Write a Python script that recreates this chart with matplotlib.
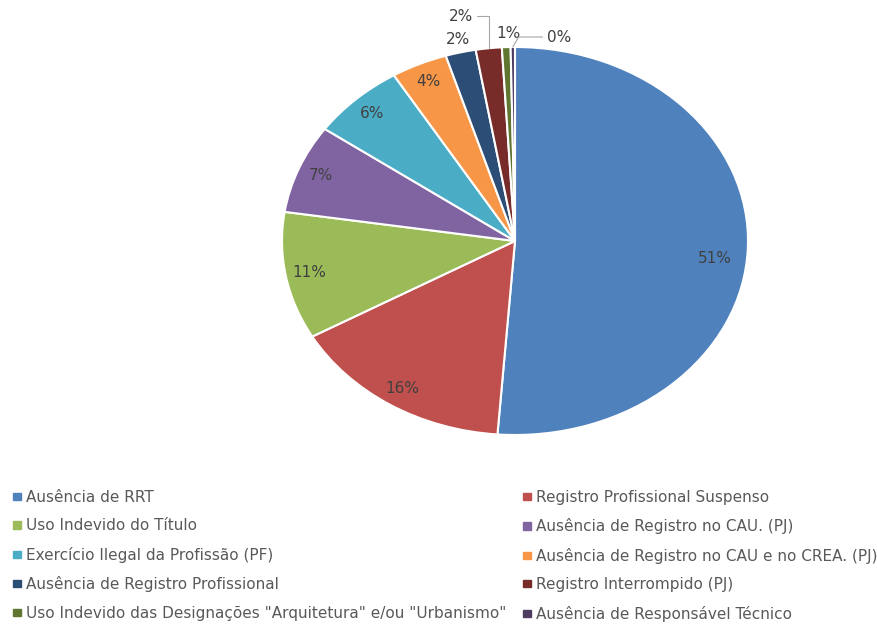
#!/usr/bin/env python3

import numpy as np
import matplotlib
matplotlib.use("Agg")
import matplotlib.pyplot as plt
from matplotlib.patches import Patch


# -------------------------------------------------------
# Data
# -------------------------------------------------------

categories = [
    "Ausência de RRT",
    "Registro Profissional Suspenso",
    "Uso Indevido do Título",
    "Ausência de Registro no CAU. (PJ)",
    "Exercício Ilegal da Profissão (PF)",
    "Ausência de Registro no CAU e no CREA. (PJ)",
    "Ausência de Registro Profissional",
    "Registro Interrompido (PJ)",
    "Uso Indevido das Designações \"Arquitetura\" e/ou \"Urbanismo\"",
    "Ausência de Responsável Técnico",
]

shares = [51.2, 15.6, 10.6, 7.4, 6.5, 3.9, 2.1, 1.8, 0.6, 0.3]

colors = [
    "#4F81BD", "#C0504D", "#9BBB59", "#8064A2", "#4BACC6",
    "#F79646", "#2C4D75", "#772C2A", "#5F7530", "#4D3B62",
]

# small slices get their label outside: (dx, dy) offset in pixels, leader style
outside = {
    6: ((-3, 13), None),
    7: ((-28, 32), "angle,angleA=0,angleB=90,rad=0"),
    8: ((2, 14), None),
    9: ((46, 10), "angle,angleA=0,angleB=60,rad=0"),
}

TEXT = "#404040"
LEGEND_TEXT = "#595959"


# -------------------------------------------------------
# Figure
# -------------------------------------------------------

W, H = 878, 624
fig = plt.figure(figsize=(W / 100, H / 100), dpi=100)

# pie is stretched into an ellipse, like the reference
ax = fig.add_axes([282 / W, 1 - 435 / H, 466 / W, 388 / H])

wedges, _ = ax.pie(
    shares,
    colors=colors,
    startangle=90,
    counterclock=False,
    radius=1.0,
    wedgeprops=dict(edgecolor="white", linewidth=1.5),
)

ax.set_aspect("auto")
ax.set_xlim(-1, 1)
ax.set_ylim(-1, 1)
ax.axis("off")

for i, (w, v) in enumerate(zip(wedges, shares)):

    mid = np.deg2rad((w.theta1 + w.theta2) / 2)
    label = "%d%%" % round(v)

    if i in outside:
        (dx, dy), conn = outside[i]
        xy = (np.cos(mid), np.sin(mid))
        arrow = None
        if conn:
            arrow = dict(arrowstyle="-", color="#A6A6A6", lw=0.8,
                         connectionstyle=conn, shrinkA=1, shrinkB=0)
        ax.annotate(label, xy=xy, xytext=(dx, dy),
                    textcoords="offset pixels",
                    ha="center", va="center",
                    fontsize=11, color=TEXT,
                    arrowprops=arrow)
    else:
        r = 0.86 if i == 0 else 0.9
        y_shift = -0.06 if i == 0 else 0.0
        ax.text(r * np.cos(mid), r * np.sin(mid) + y_shift, label,
                ha="center", va="center", fontsize=11, color=TEXT)


# -------------------------------------------------------
# Legend (two columns, row-major order)
# -------------------------------------------------------

handles = [Patch(color=c, label=l) for c, l in zip(colors, categories)]

common = dict(
    frameon=False,
    fontsize=11,
    labelcolor=LEGEND_TEXT,
    handlelength=0.5,
    handleheight=0.35,
    handletextpad=0.35,
    labelspacing=0.88,
    borderpad=0,
    borderaxespad=0,
    loc="upper left",
)

fig.legend(handles=handles[0::2],
           bbox_to_anchor=(13 / W, 1 - 490 / H), **common)

fig.legend(handles=handles[1::2],
           bbox_to_anchor=(523 / W, 1 - 490 / H), **common)

fig.savefig("out.png", dpi=100)
